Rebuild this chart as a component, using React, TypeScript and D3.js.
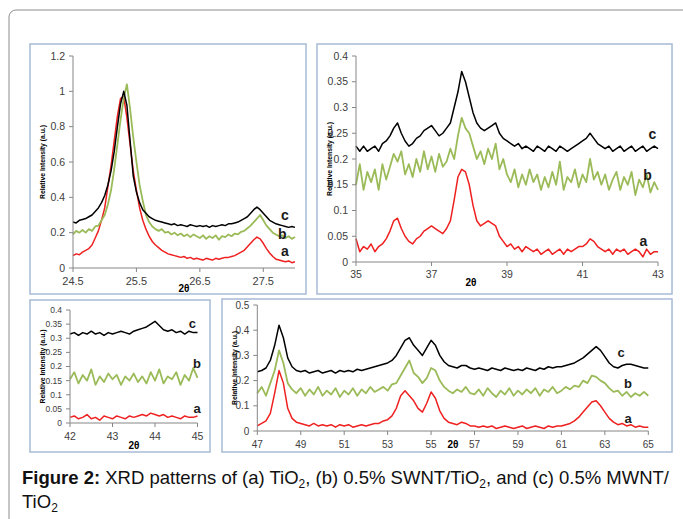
import React from 'react'
import * as d3 from 'd3'

// ---- panel 1: 24.5 - 28 (anatase 101 / rutile 110)
const p1Theta = [
  24.5, 24.55, 24.6, 24.65, 24.7, 24.75, 24.8, 24.85, 24.9, 24.95,
  25, 25.05, 25.1, 25.15, 25.2, 25.25, 25.3, 25.35, 25.4, 25.45,
  25.5, 25.55, 25.6, 25.65, 25.7, 25.75, 25.8, 25.85, 25.9, 25.95,
  26, 26.05, 26.1, 26.15, 26.2, 26.25, 26.3, 26.35, 26.4, 26.45,
  26.5, 26.55, 26.6, 26.65, 26.7, 26.75, 26.8, 26.85, 26.9, 26.95,
  27, 27.05, 27.1, 27.15, 27.2, 27.25, 27.3, 27.35, 27.4, 27.45,
  27.5, 27.55, 27.6, 27.65, 27.7, 27.75, 27.8, 27.85, 27.9, 27.95,
  28,
]
const p1TiO2 = [
  0.07, 0.08, 0.075, 0.09, 0.1, 0.11, 0.13, 0.17, 0.21, 0.27,
  0.34, 0.46, 0.58, 0.72, 0.86, 0.96, 0.97, 0.85, 0.7, 0.55,
  0.44, 0.34, 0.27, 0.22, 0.18, 0.15, 0.13, 0.115, 0.1, 0.09,
  0.08, 0.075, 0.07, 0.065, 0.06, 0.065, 0.055, 0.06, 0.05, 0.055,
  0.05, 0.045, 0.055, 0.05, 0.045, 0.055, 0.05, 0.055, 0.06, 0.06,
  0.065, 0.07, 0.08, 0.09, 0.1, 0.12, 0.14, 0.16, 0.175, 0.165,
  0.14, 0.11, 0.085, 0.065, 0.05, 0.045, 0.04, 0.035, 0.04, 0.03,
  0.035,
]
const p1Swnt = [
  0.19, 0.21, 0.2, 0.215, 0.2, 0.22, 0.21, 0.235, 0.24, 0.27,
  0.3, 0.36, 0.44, 0.56, 0.7, 0.84, 0.96, 1.04, 0.9, 0.74,
  0.6, 0.47, 0.38, 0.3, 0.26, 0.235, 0.22, 0.21, 0.22, 0.2,
  0.205, 0.19, 0.2, 0.185, 0.195, 0.18, 0.19, 0.175, 0.19, 0.18,
  0.17, 0.185, 0.165, 0.18, 0.17, 0.185, 0.16, 0.18, 0.175, 0.19,
  0.18, 0.195, 0.19, 0.205, 0.21, 0.225, 0.24, 0.26, 0.28, 0.3,
  0.27, 0.24, 0.22, 0.2, 0.19, 0.18, 0.185, 0.17, 0.18, 0.165,
  0.175,
]
const p1Mwnt = [
  0.26, 0.255, 0.27, 0.275, 0.28, 0.29, 0.3, 0.32, 0.34, 0.37,
  0.41, 0.47, 0.55, 0.66, 0.8, 0.93, 1.0, 0.92, 0.72, 0.52,
  0.43, 0.37, 0.33, 0.31, 0.29, 0.28, 0.27, 0.265, 0.26, 0.255,
  0.25, 0.245, 0.25, 0.24, 0.245, 0.24, 0.235, 0.245, 0.24, 0.235,
  0.24, 0.235, 0.24, 0.23, 0.24, 0.235, 0.24, 0.245, 0.24, 0.25,
  0.25, 0.255, 0.26, 0.27, 0.28, 0.29, 0.31, 0.33, 0.345, 0.33,
  0.31, 0.29, 0.27, 0.26, 0.25, 0.245, 0.24, 0.235, 0.23, 0.235,
  0.23,
]

// ---- panel 2: 35 - 43
const p2Theta = [
  35, 35.1, 35.2, 35.3, 35.4, 35.5, 35.6, 35.7, 35.8, 35.9,
  36, 36.1, 36.2, 36.3, 36.4, 36.5, 36.6, 36.7, 36.8, 36.9,
  37, 37.1, 37.2, 37.3, 37.4, 37.5, 37.6, 37.7, 37.8, 37.9,
  38, 38.1, 38.2, 38.3, 38.4, 38.5, 38.6, 38.7, 38.8, 38.9,
  39, 39.1, 39.2, 39.3, 39.4, 39.5, 39.6, 39.7, 39.8, 39.9,
  40, 40.1, 40.2, 40.3, 40.4, 40.5, 40.6, 40.7, 40.8, 40.9,
  41, 41.1, 41.2, 41.3, 41.4, 41.5, 41.6, 41.7, 41.8, 41.9,
  42, 42.1, 42.2, 42.3, 42.4, 42.5, 42.6, 42.7, 42.8, 42.9,
  43,
]
const p2TiO2 = [
  0.045, 0.02, 0.03, 0.025, 0.035, 0.02, 0.03, 0.035, 0.045, 0.06,
  0.08, 0.085, 0.065, 0.05, 0.04, 0.035, 0.045, 0.05, 0.06, 0.065,
  0.07, 0.065, 0.06, 0.055, 0.065, 0.08, 0.12, 0.165, 0.18, 0.175,
  0.15, 0.11, 0.08, 0.07, 0.075, 0.08, 0.075, 0.07, 0.05, 0.04,
  0.03, 0.035, 0.025, 0.03, 0.02, 0.03, 0.025, 0.02, 0.025, 0.015,
  0.02, 0.025, 0.015, 0.02, 0.025, 0.015, 0.025, 0.02, 0.025, 0.03,
  0.03, 0.035, 0.045, 0.04, 0.03, 0.025, 0.02, 0.025, 0.015, 0.025,
  0.02, 0.025, 0.015, 0.02, 0.025, 0.02, 0.01, 0.025, 0.015, 0.02,
  0.02,
]
const p2Swnt = [
  0.15, 0.19, 0.14, 0.175, 0.155, 0.18, 0.14, 0.19, 0.16, 0.185,
  0.21, 0.195, 0.215, 0.17, 0.19, 0.165, 0.2, 0.175, 0.215, 0.18,
  0.205, 0.175, 0.21, 0.185, 0.195, 0.22, 0.2, 0.245, 0.28, 0.26,
  0.25, 0.225, 0.2, 0.215, 0.19, 0.22, 0.2, 0.23, 0.18, 0.2,
  0.17, 0.155, 0.18, 0.145, 0.17, 0.15, 0.18, 0.155, 0.17, 0.14,
  0.165, 0.145, 0.175, 0.15, 0.195, 0.14, 0.165, 0.155, 0.18, 0.145,
  0.17, 0.155, 0.2, 0.16, 0.175, 0.15, 0.17, 0.14, 0.16, 0.175,
  0.14, 0.165, 0.15, 0.175, 0.13, 0.16, 0.145, 0.17, 0.135, 0.155,
  0.14,
]
const p2Mwnt = [
  0.225, 0.215, 0.225, 0.215, 0.22, 0.225, 0.215, 0.23, 0.235, 0.245,
  0.26, 0.27, 0.25, 0.235, 0.225, 0.23, 0.24, 0.245, 0.255, 0.26,
  0.265, 0.255, 0.245, 0.25, 0.26, 0.27, 0.3, 0.33, 0.37, 0.35,
  0.32, 0.29, 0.27, 0.26, 0.255, 0.26, 0.265, 0.27, 0.25, 0.24,
  0.235, 0.23, 0.225, 0.23, 0.22, 0.225, 0.22, 0.215, 0.225, 0.22,
  0.215, 0.225, 0.22, 0.215, 0.225, 0.22, 0.215, 0.22, 0.225, 0.23,
  0.235, 0.24, 0.25, 0.24, 0.23, 0.225, 0.22, 0.225, 0.215, 0.22,
  0.225, 0.215, 0.22, 0.225, 0.215, 0.22, 0.225, 0.215, 0.22, 0.225,
  0.22,
]

// ---- panel 3: 42 - 45
const p3Theta = [
  42, 42.1, 42.2, 42.3, 42.4, 42.5, 42.6, 42.7, 42.8, 42.9,
  43, 43.1, 43.2, 43.3, 43.4, 43.5, 43.6, 43.7, 43.8, 43.9,
  44, 44.1, 44.2, 44.3, 44.4, 44.5, 44.6, 44.7, 44.8, 44.9,
  45,
]
const p3TiO2 = [
  0.02, 0.025, 0.015, 0.02, 0.03, 0.015, 0.02, 0.01, 0.025, 0.02,
  0.015, 0.025, 0.02, 0.015, 0.025, 0.02, 0.025, 0.03, 0.025, 0.035,
  0.03, 0.025, 0.03, 0.02, 0.025, 0.02, 0.015, 0.025, 0.02, 0.02,
  0.025,
]
const p3Swnt = [
  0.155, 0.18, 0.14, 0.17, 0.15, 0.19, 0.135, 0.165, 0.145, 0.175,
  0.155, 0.17, 0.135, 0.165, 0.15, 0.175, 0.145, 0.165, 0.14, 0.18,
  0.15, 0.19, 0.14, 0.165, 0.155, 0.18, 0.135, 0.17, 0.15, 0.195,
  0.16,
]
const p3Mwnt = [
  0.315, 0.32, 0.31, 0.32, 0.315, 0.325, 0.315, 0.32, 0.31, 0.32,
  0.315, 0.32, 0.325, 0.32, 0.315, 0.325, 0.33, 0.335, 0.34, 0.35,
  0.36, 0.345, 0.33, 0.325, 0.33, 0.32, 0.325, 0.315, 0.325, 0.32,
  0.32,
]

// ---- panel 4: 47 - 65
const p4Theta = [
  47, 47.2, 47.4, 47.6, 47.8, 48, 48.2, 48.4, 48.6, 48.8,
  49, 49.2, 49.4, 49.6, 49.8, 50, 50.2, 50.4, 50.6, 50.8,
  51, 51.2, 51.4, 51.6, 51.8, 52, 52.2, 52.4, 52.6, 52.8,
  53, 53.2, 53.4, 53.6, 53.8, 54, 54.2, 54.4, 54.6, 54.8,
  55, 55.2, 55.4, 55.6, 55.8, 56, 56.2, 56.4, 56.6, 56.8,
  57, 57.2, 57.4, 57.6, 57.8, 58, 58.2, 58.4, 58.6, 58.8,
  59, 59.2, 59.4, 59.6, 59.8, 60, 60.2, 60.4, 60.6, 60.8,
  61, 61.2, 61.4, 61.6, 61.8, 62, 62.2, 62.4, 62.6, 62.8,
  63, 63.2, 63.4, 63.6, 63.8, 64, 64.2, 64.4, 64.6, 64.8,
  65,
]
const p4TiO2 = [
  0.02, 0.03, 0.04, 0.07, 0.15, 0.24, 0.19, 0.09, 0.05, 0.035,
  0.03, 0.025, 0.02, 0.03, 0.02, 0.025, 0.02, 0.025, 0.015, 0.025,
  0.02, 0.025, 0.015, 0.02, 0.025, 0.02, 0.025, 0.03, 0.03, 0.04,
  0.045, 0.06, 0.09, 0.14, 0.16, 0.14, 0.12, 0.09, 0.075, 0.11,
  0.155, 0.13, 0.08, 0.05, 0.035, 0.03, 0.025, 0.035, 0.03, 0.02,
  0.02, 0.015, 0.02, 0.015, 0.02, 0.01, 0.015, 0.02, 0.015, 0.01,
  0.015, 0.02, 0.01, 0.015, 0.02, 0.015, 0.01, 0.02, 0.015, 0.02,
  0.02, 0.025, 0.03, 0.04, 0.055, 0.075, 0.095, 0.115, 0.12, 0.1,
  0.075, 0.05, 0.035, 0.025, 0.03, 0.02, 0.025, 0.015, 0.02, 0.015,
  0.015,
]
const p4Swnt = [
  0.15, 0.175, 0.14, 0.19, 0.24, 0.32, 0.27, 0.19, 0.165, 0.15,
  0.17, 0.14, 0.165, 0.145, 0.175, 0.14, 0.16, 0.145, 0.17, 0.135,
  0.16, 0.145, 0.17, 0.14, 0.165, 0.15, 0.175, 0.155, 0.165, 0.175,
  0.16, 0.185, 0.19, 0.22, 0.25, 0.28, 0.23, 0.215, 0.19, 0.21,
  0.25, 0.24, 0.2, 0.175, 0.16, 0.15, 0.165, 0.155, 0.175, 0.15,
  0.145, 0.165, 0.14, 0.17, 0.15, 0.135, 0.16, 0.145, 0.17, 0.14,
  0.16, 0.145, 0.165, 0.15, 0.17, 0.14, 0.165, 0.155, 0.175, 0.15,
  0.16, 0.175, 0.165, 0.18, 0.175, 0.2, 0.19, 0.22, 0.215, 0.2,
  0.19, 0.17, 0.155, 0.16, 0.14, 0.155, 0.135, 0.15, 0.14, 0.155,
  0.14,
]
const p4Mwnt = [
  0.235, 0.24, 0.25, 0.28, 0.34, 0.42, 0.37, 0.29, 0.255, 0.24,
  0.235, 0.24, 0.23, 0.235, 0.24, 0.23, 0.235, 0.24, 0.23, 0.24,
  0.235, 0.24, 0.235, 0.245, 0.24, 0.245, 0.25, 0.255, 0.26, 0.265,
  0.27, 0.28, 0.3, 0.33, 0.36, 0.37, 0.34, 0.32, 0.3, 0.33,
  0.36, 0.34, 0.3, 0.275, 0.26, 0.255, 0.25, 0.26, 0.26, 0.25,
  0.245, 0.25, 0.245, 0.24, 0.25, 0.245, 0.24, 0.25, 0.245, 0.24,
  0.245, 0.24, 0.25, 0.245, 0.24, 0.25, 0.245, 0.255, 0.25, 0.255,
  0.255, 0.26, 0.265, 0.27, 0.28, 0.29, 0.305, 0.32, 0.335, 0.32,
  0.295, 0.27, 0.255, 0.25, 0.26, 0.265, 0.265, 0.26, 0.255, 0.25,
  0.25,
]

// ticks
const p1XTicks = [24.5, 25.5, 26.5, 27.5]
const p1YTicks = [0, 0.2, 0.4, 0.6, 0.8, 1, 1.2]
const p2XTicks = [35, 37, 39, 41, 43]
const p2YTicks = [0, 0.05, 0.1, 0.15, 0.2, 0.25, 0.3, 0.35, 0.4]
const p3XTicks = [42, 43, 44, 45]
const p3YTicks = [0, 0.05, 0.1, 0.15, 0.2, 0.25, 0.3, 0.35, 0.4]
const p4XTicks = [47, 49, 51, 53, 55, 57, 59, 61, 63, 65]
const p4YTicks = [0, 0.1, 0.2, 0.3, 0.4, 0.5]

const tags = ['a', 'b', 'c']
const colors = ['#ef2020', '#9bbb59', '#000000']
const widths = [1.5, 1.8, 1.5]

const FONT = "'Liberation Sans', Arial, sans-serif"

type Panel = {
  box: number[]
  plot: number[]
  xDomain: [number, number]
  yDomain: [number, number]
  xTicks: number[]
  yTicks: number[]
  theta: number[]
  series: number[][]
  yFont: number
  xFont: number
  xLabelY: number
  thetaAt: number[]
  tagAt: number[][]
  tagFont: number
}

const panels: Panel[] = [
  {
    box: [30, 44, 306, 294], plot: [73, 56, 295, 268],
    xDomain: [24.5, 28], yDomain: [0, 1.2], xTicks: p1XTicks, yTicks: p1YTicks,
    theta: p1Theta, series: [p1TiO2, p1Swnt, p1Mwnt],
    yFont: 10.5, xFont: 11, xLabelY: 281, thetaAt: [184, 288],
    tagAt: [[27.84, 0.095], [27.8, 0.19], [27.84, 0.3]], tagFont: 14,
  },
  {
    box: [317, 44, 672, 294], plot: [356, 56, 658, 262],
    xDomain: [35, 43], yDomain: [0, 0.4], xTicks: p2XTicks, yTicks: p2YTicks,
    theta: p2Theta, series: [p2TiO2, p2Swnt, p2Mwnt],
    yFont: 10.5, xFont: 10.5, xLabelY: 274, thetaAt: [471, 282],
    tagAt: [[42.61, 0.041], [42.72, 0.169], [42.85, 0.248]], tagFont: 14,
  },
  {
    box: [30, 300, 210, 452], plot: [70, 310, 197.5, 423],
    xDomain: [42, 45], yDomain: [0, 0.4], xTicks: p3XTicks, yTicks: p3YTicks,
    theta: p3Theta, series: [p3TiO2, p3Swnt, p3Mwnt],
    yFont: 8.5, xFont: 10.5, xLabelY: 436, thetaAt: [134, 445],
    tagAt: [[44.99, 0.052], [44.99, 0.212], [44.88, 0.354]], tagFont: 13,
  },
  {
    box: [222, 299, 672, 452], plot: [257.3, 305, 648.3, 431],
    xDomain: [47, 65], yDomain: [0, 0.5], xTicks: p4XTicks, yTicks: p4YTicks,
    theta: p4Theta, series: [p4TiO2, p4Swnt, p4Mwnt],
    yFont: 10, xFont: 10, xLabelY: 444, thetaAt: [453, 444],
    tagAt: [[64.07, 0.048], [64.07, 0.187], [63.75, 0.31]], tagFont: 13,
  },
]

const XrdPanel = ({ p }: { p: Panel }) => {
  const [l, t, r, b] = p.plot
  const x = d3.scaleLinear().domain(p.xDomain).range([l, r])
  const y = d3.scaleLinear().domain(p.yDomain).range([b, t])
  const line = d3.line<number>().x((_, i) => x(p.theta[i])).y(d => y(d))
  const [bx0, by0, bx1, by1] = p.box
  return (
    <g>
      <rect x={bx0} y={by0} width={bx1 - bx0} height={by1 - by0} fill="#fff" stroke="#a7bbd6" strokeWidth={1.5} />
      {p.series.map((s, i) => (
        <path key={i} d={line(s) || ''} fill="none" stroke={colors[i]} strokeWidth={widths[i]} strokeLinejoin="round" />
      ))}
      <line x1={l} x2={l} y1={t} y2={b} stroke="#868686" />
      <line x1={l} x2={r} y1={b} y2={b} stroke="#868686" />
      {p.yTicks.map(v => (
        <g key={'y' + v}>
          <line x1={l - 4} x2={l} y1={y(v)} y2={y(v)} stroke="#868686" />
          <text x={l - 8} y={y(v)} dy="0.35em" textAnchor="end" fontSize={p.yFont} fill="#404040" fontFamily={FONT}>{String(v)}</text>
        </g>
      ))}
      {p.xTicks.map(v => (
        <g key={'x' + v}>
          <line x1={x(v)} x2={x(v)} y1={b} y2={b + 4} stroke="#868686" />
          <text x={x(v)} y={p.xLabelY} dy="0.35em" textAnchor="middle" fontSize={p.xFont} fill="#404040" fontFamily={FONT}>{String(v)}</text>
        </g>
      ))}
      <text transform={`translate(${bx0 + 13},${(t + b) / 2}) rotate(-90)`} textAnchor="middle" dy="0.35em"
        fontSize={6.8} fontWeight="bold" fill="#000" fontFamily={FONT}>Relative Intensity (a.u.)</text>
      <text x={p.thetaAt[0]} y={p.thetaAt[1]} dy="0.35em" textAnchor="middle" fontSize={10} fontWeight="bold" fontFamily={FONT}>2θ</text>
      {p.tagAt.map((pos, i) => (
        <text key={tags[i]} x={x(pos[0])} y={y(pos[1])} dy="0.35em" textAnchor="middle" fontSize={p.tagFont}
          fontWeight="bold" fill="#1a1a1a" fontFamily={FONT}>{tags[i]}</text>
      ))}
    </g>
  )
}

export default function App() {
  return (
    <svg width={683} height={519} style={{ position: 'absolute', left: 0, top: 0, background: '#fff' }}>
      <rect x={9} y={10} width={700} height={540} rx={7} fill="#fff" stroke="#8c8c8c" strokeWidth={1} />
      {panels.map((p, i) => <XrdPanel key={i} p={p} />)}
      <text x={22} y={484} fontSize={18.5} fontFamily={FONT} fill="#111">
        <tspan fontWeight="bold">Figure 2:</tspan>
        <tspan> XRD patterns of (a) TiO</tspan>
        <tspan fontSize={12} dy={4}>2</tspan>
        <tspan dy={-4}>, (b) 0.5% SWNT/TiO</tspan>
        <tspan fontSize={12} dy={4}>2</tspan>
        <tspan dy={-4}>, and (c) 0.5% MWNT/</tspan>
      </text>
      <text x={22} y={508} fontSize={18.5} fontFamily={FONT} fill="#111">
        <tspan>TiO</tspan>
        <tspan fontSize={12} dy={4}>2</tspan>
      </text>
    </svg>
  )
}
